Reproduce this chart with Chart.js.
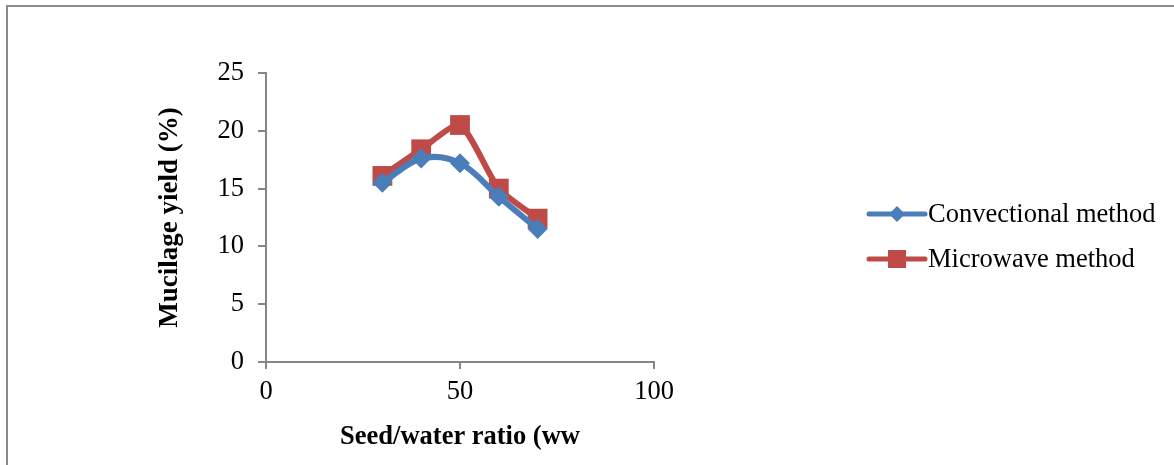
<!DOCTYPE html>
<html>
<head>
<meta charset="utf-8">
<script src="https://cdn.jsdelivr.net/npm/chart.js@4.4.1/dist/chart.umd.min.js"></script>
<style>
  html, body { margin: 0; padding: 0; background: #fff; }
  #wrap { position: relative; width: 1174px; height: 465px; }
  #frame { position: absolute; left: 6px; top: 5px; right: 0; bottom: 0;
           border-left: 2px solid #8a8a8a; border-top: 2px solid #8a8a8a; }
  canvas { position: absolute; left: 0; top: 0; }
</style>
</head>
<body>
<div id="wrap">
  <div id="frame"></div>
  <canvas id="chart" width="1174" height="465"></canvas>
</div>
<script>
// seed/water ratio values (x)
var ratios = [30, 40, 50, 60, 70];
// mucilage yield (%)
var convectional = [15.5, 17.6, 17.2, 14.3, 11.5];
var microwave = [16.1, 18.4, 20.5, 15.0, 12.4];
var seriesNames = ['Convectional method', 'Microwave method'];
var xTicks = [0, 50, 100];
var yTicks = [0, 5, 10, 15, 20, 25];

var blue = '#4a7ebb';
var red = '#be4b48';
var axisGray = '#868686';
var serif = '"Liberation Serif", "Times New Roman", serif';

function toPoints(vals) {
    var pts = [];
    for (var i = 0; i < ratios.length; i++) {
        pts.push({x: ratios[i], y: vals[i]});
    }
    return pts;
}

// legend drawn by hand: line with the marker in the middle, like Excel
var sideLegend = {
    id: 'sideLegend',
    afterDraw: function(chart) {
        var ctx = chart.ctx;
        var rows = [214, 259];
        chart.data.datasets.forEach(function(ds, i) {
            var y = rows[i];
            ctx.save();
            ctx.strokeStyle = ds.borderColor;
            ctx.lineWidth = 5;
            ctx.lineCap = 'round';
            ctx.beginPath();
            ctx.moveTo(869, y);
            ctx.lineTo(925, y);
            ctx.stroke();
            ctx.fillStyle = ds.backgroundColor;
            if (ds.pointStyle === 'rectRot') {
                ctx.beginPath();
                ctx.moveTo(897 - 8, y);
                ctx.lineTo(897, y - 8);
                ctx.lineTo(897 + 8, y);
                ctx.lineTo(897, y + 8);
                ctx.closePath();
                ctx.fill();
            } else {
                ctx.fillRect(897 - 9, y - 9, 18, 18);
            }
            ctx.fillStyle = '#000';
            ctx.font = '26.5px ' + serif;
            ctx.textBaseline = 'middle';
            ctx.fillText(ds.label, 928, y + 1);
            ctx.restore();
        });
    }
};

var ctx = document.getElementById('chart').getContext('2d');
new Chart(ctx, {
    type: 'line',
    data: {
        datasets: [{
            label: seriesNames[0],
            data: toPoints(convectional),
            borderColor: blue,
            backgroundColor: blue,
            borderWidth: 6,
            tension: 0.35,
            pointStyle: 'rectRot',
            pointRadius: 10,
            pointBorderWidth: 0,
            pointHoverRadius: 10
        }, {
            label: seriesNames[1],
            data: toPoints(microwave),
            borderColor: red,
            backgroundColor: red,
            borderWidth: 6,
            tension: 0.2,
            pointStyle: 'rect',
            pointRadius: 14,
            pointBorderWidth: 0,
            pointHoverRadius: 14
        }]
    },
    options: {
        responsive: false,
        animation: false,
        events: [],
        layout: { padding: { left: 154, top: 73, right: 520, bottom: 0 } },
        plugins: { legend: { display: false }, tooltip: { enabled: false } },
        scales: {
            x: {
                type: 'linear',
                min: 0, max: 100,
                afterBuildTicks: function(s) { s.ticks = xTicks.map(function(v) { return {value: v}; }); },
                afterFit: function(s) { s.height = 103; },
                grid: { drawOnChartArea: false, drawTicks: true, tickLength: 7, color: axisGray, lineWidth: 2 },
                border: { color: axisGray, width: 2 },
                ticks: { color: '#000', font: { family: serif, size: 26.5 }, padding: 7, maxRotation: 0 },
                title: { display: true, text: 'Seed/water ratio (ww', color: '#000',
                         font: { family: serif, size: 26.5, weight: 'bold' }, padding: 12 }
            },
            y: {
                min: 0, max: 25,
                afterBuildTicks: function(s) { s.ticks = yTicks.map(function(v) { return {value: v}; }); },
                afterFit: function(s) { s.width = 112; },
                grid: { drawOnChartArea: false, drawTicks: true, tickLength: 8, color: axisGray, lineWidth: 2 },
                border: { color: axisGray, width: 2 },
                ticks: { color: '#000', font: { family: serif, size: 26.5 }, padding: 14 },
                title: { display: true, text: 'Mucilage yield (%)', color: '#000',
                         font: { family: serif, size: 27, weight: 'bold' }, padding: 0 }
            }
        }
    },
    plugins: [sideLegend]
});
</script>
</body>
</html>
